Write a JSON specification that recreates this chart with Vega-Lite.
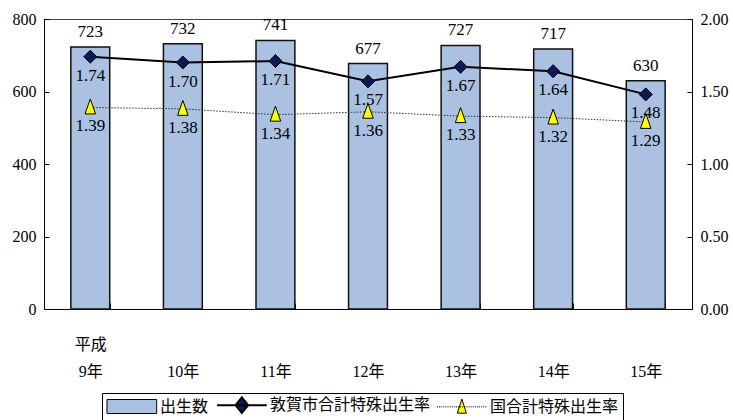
{
  "$schema": "https://vega.github.io/schema/vega-lite/v6.json",
  "autosize": {"type": "none"},
  "width": 648,
  "height": 290,
  "padding": {"left": 44, "top": 19, "right": 41, "bottom": 111},
  "background": "white",
  "config": {
    "view": {"stroke": "#444", "strokeWidth": 1},
    "font": "Liberation Serif",
    "axis": {"labelFont": "Liberation Serif, Noto Sans CJK JP", "labelFontSize": 16, "labelColor": "black", "domainColor": "black", "tickColor": "black", "grid": false, "title": null}
  },
  "data": {"values": [
    {"year": "9年", "series": "出生数", "value": 723},
    {"year": "10年", "series": "出生数", "value": 732},
    {"year": "11年", "series": "出生数", "value": 741},
    {"year": "12年", "series": "出生数", "value": 677},
    {"year": "13年", "series": "出生数", "value": 727},
    {"year": "14年", "series": "出生数", "value": 717},
    {"year": "15年", "series": "出生数", "value": 630},
    {"year": "9年", "series": "敦賀市合計特殊出生率", "value": 1.74},
    {"year": "10年", "series": "敦賀市合計特殊出生率", "value": 1.70},
    {"year": "11年", "series": "敦賀市合計特殊出生率", "value": 1.71},
    {"year": "12年", "series": "敦賀市合計特殊出生率", "value": 1.57},
    {"year": "13年", "series": "敦賀市合計特殊出生率", "value": 1.67},
    {"year": "14年", "series": "敦賀市合計特殊出生率", "value": 1.64},
    {"year": "15年", "series": "敦賀市合計特殊出生率", "value": 1.48},
    {"year": "9年", "series": "国合計特殊出生率", "value": 1.39},
    {"year": "10年", "series": "国合計特殊出生率", "value": 1.38},
    {"year": "11年", "series": "国合計特殊出生率", "value": 1.34},
    {"year": "12年", "series": "国合計特殊出生率", "value": 1.36},
    {"year": "13年", "series": "国合計特殊出生率", "value": 1.33},
    {"year": "14年", "series": "国合計特殊出生率", "value": 1.32},
    {"year": "15年", "series": "国合計特殊出生率", "value": 1.29}
  ]},
  "encoding": {
    "x": {
      "field": "year", "type": "ordinal",
      "sort": ["9年", "10年", "11年", "12年", "13年", "14年", "15年"],
      "scale": {"paddingInner": 0.58, "paddingOuter": 0.29},
      "axis": {"orient": "bottom", "labelAngle": 0, "tickBand": "extent", "tickSize": -6, "labelPadding": 33, "labelLineHeight": 27, "labelBaseline": "top",
        "labelExpr": "datum.value === '9年' ? ['平成', '9年'] : ['', datum.value]"}
    }
  },
  "layer": [
    {
      "transform": [{"filter": "datum.series === '出生数'"}],
      "encoding": {
        "y": {"field": "value", "type": "quantitative", "scale": {"domain": [0, 800], "nice": false},
          "axis": {"orient": "left", "values": [0, 200, 400, 600, 800], "tickSize": -5, "labelPadding": 13}}
      },
      "layer": [
        {
          "mark": {"type": "bar", "stroke": "#111", "strokeWidth": 1.5},
          "encoding": {
            "fill": {"field": "series", "type": "nominal",
              "scale": {"domain": ["出生数", "敦賀市合計特殊出生率", "国合計特殊出生率"], "range": ["#abc1e1", "#0b1957", "#ffff00"]},
              "legend": {
                "title": null, "orient": "none", "legendX": 58, "legendY": 374, "direction": "horizontal",
                "strokeColor": "black", "padding": 4, "labelFont": "Noto Sans CJK JP", "labelFontSize": 16, "labelColor": "black",
                "labelLimit": 400, "labelOffset": 38, "columnPadding": 4, "symbolSize": 196, "symbolStrokeColor": "black", "symbolStrokeWidth": 1, "symbolOpacity": 1,
                "encode": {"symbols": {"update": {
                  "shape": {"signal": "datum.value === '出生数' ? 'M-1,-1H6.1V1H-1Z' : datum.value === '敦賀市合計特殊出生率' ? 'M-1,0H6.1M2.55,-1.1L3.45,0L2.55,1.1L1.65,0Z' : 'M-1,0h0.15m0.15,0h0.15m0.15,0h0.15m0.15,0h0.15m0.15,0h0.15m0.15,0h0.15m0.15,0h0.15m0.15,0h0.15m0.15,0h0.15m0.15,0h0.15m0.15,0h0.15m0.15,0h0.15m0.15,0h0.15m0.15,0h0.15m0.15,0h0.15m0.15,0h0.15m0.15,0h0.15m0.15,0h0.15m0.15,0h0.15m0.15,0h0.15m0.15,0h0.15m0.15,0h0.15m0.15,0h0.15m0.15,0h0.15M2.55,-1.1L3.2,0.9L1.9,0.9Z'"},
                  "strokeWidth": {"signal": "datum.value === '敦賀市合計特殊出生率' ? 2 : 1"},
                  "stroke": {"value": "black"}
                }}}
              }}
          }
        },
        {
          "mark": {"type": "text", "baseline": "alphabetic", "dy": -10, "fontSize": 17, "font": "Liberation Serif", "color": "black"},
          "encoding": {"text": {"field": "value", "type": "quantitative"}}
        }
      ]
    },
    {
      "transform": [{"filter": "datum.series !== '出生数'"}],
      "encoding": {
        "y": {"field": "value", "type": "quantitative", "scale": {"domain": [0, 2], "nice": false},
          "axis": {"orient": "right", "values": [0, 0.5, 1, 1.5, 2], "format": ".2f", "tickSize": -5, "labelPadding": 13}}
      },
      "layer": [
        {
          "transform": [{"filter": "datum.series === '国合計特殊出生率'"}],
          "mark": {"type": "line", "color": "#333", "strokeWidth": 1, "strokeDash": [1.5, 1.5]},
          "encoding": {}
        },
        {
          "transform": [{"filter": "datum.series === '敦賀市合計特殊出生率'"}],
          "mark": {"type": "line", "color": "black", "strokeWidth": 2},
          "encoding": {}
        },
        {
          "transform": [{"filter": "datum.series === '敦賀市合計特殊出生率'"}],
          "mark": {"type": "point", "filled": true, "shape": "diamond", "size": 170, "stroke": "black", "strokeWidth": 1, "opacity": 1},
          "encoding": {"fill": {"field": "series", "type": "nominal"}}
        },
        {
          "transform": [{"filter": "datum.series === '国合計特殊出生率'"}],
          "mark": {"type": "point", "filled": true, "shape": "M0,-1.05L0.65,0.8L-0.65,0.8Z", "size": 260, "stroke": "black", "strokeWidth": 1, "opacity": 1},
          "encoding": {"fill": {"field": "series", "type": "nominal"}}
        },
        {
          "mark": {"type": "text", "baseline": "middle", "dy": 19, "fontSize": 17, "font": "Liberation Serif", "color": "black"},
          "encoding": {"text": {"field": "value", "type": "quantitative", "format": ".2f"}}
        }
      ]
    }
  ],
  "resolve": {"scale": {"y": "independent"}}
}
